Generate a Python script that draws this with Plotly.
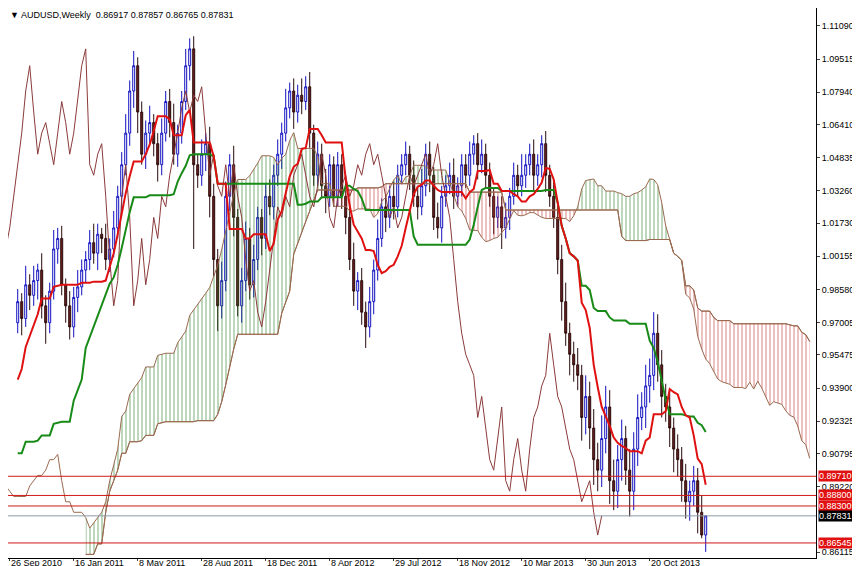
import numpy as np
import pandas as pd
import plotly.graph_objects as go

# weekly closes before the visible window (only feed the indicators)
prior_closes = [0.80, 0.81, 0.79, 0.80, 0.80, 0.82, 0.83, 0.84, 0.83, 0.84, 0.84, 0.83,
                0.85, 0.86, 0.88, 0.87, 0.88, 0.90, 0.91, 0.92, 0.90, 0.92, 0.93, 0.91,
                0.91, 0.90, 0.89, 0.89, 0.90, 0.92, 0.91, 0.89, 0.88, 0.87, 0.89, 0.89,
                0.90, 0.91, 0.92, 0.91, 0.92, 0.93, 0.93, 0.92, 0.90, 0.86, 0.84, 0.85,
                0.83, 0.85, 0.86, 0.87, 0.90, 0.91, 0.92, 0.93, 0.94, 0.95, 0.96, 0.97]

# visible weekly closes, 10 Oct 2010 .. 26 Jan 2014
closes = [0.980, 0.972, 0.988, 0.983, 0.990, 0.995, 0.978, 0.970, 0.985, 1.005, 1.010, 0.988, 0.978, 0.968, 0.982, 0.987,
          0.995, 1.000, 1.008, 1.003, 1.012, 1.010, 1.000, 1.005, 1.015, 1.030, 1.045, 1.060, 1.080, 1.092, 1.070, 1.050,
          1.060, 1.065, 1.055, 1.045, 1.060, 1.075, 1.065, 1.050, 1.060, 1.075, 1.092, 1.100, 1.045, 1.040, 1.050, 1.055,
          1.030, 1.000, 0.978, 0.990, 1.030, 1.045, 1.020, 0.978, 0.990, 1.010, 0.988, 1.000, 1.020, 1.010, 1.030, 1.025,
          1.040, 1.050, 1.060, 1.072, 1.080, 1.070, 1.078, 1.075, 1.082, 1.060, 1.040, 1.050, 1.035, 1.030, 1.045, 1.030,
          1.045, 1.030, 1.020, 1.000, 0.985, 0.990, 0.975, 0.968, 0.980, 0.995, 1.010, 1.025, 1.020, 1.030, 1.025, 1.040,
          1.045, 1.050, 1.040, 1.030, 1.025, 1.035, 1.050, 1.040, 1.020, 1.015, 1.030, 1.035, 1.040, 1.030, 1.035, 1.045,
          1.040, 1.050, 1.055, 1.045, 1.050, 1.040, 1.030, 1.020, 1.025, 1.015, 1.020, 1.030, 1.040, 1.035, 1.040, 1.045,
          1.050, 1.040, 1.045, 1.055, 1.040, 1.030, 1.020, 1.000, 0.980, 0.965, 0.955, 0.950, 0.945, 0.925, 0.935, 0.920,
          0.905, 0.900, 0.915, 0.930, 0.895, 0.890, 0.905, 0.915, 0.900, 0.890, 0.910, 0.925, 0.930, 0.940, 0.945, 0.965,
          0.950, 0.935, 0.930, 0.920, 0.910, 0.905, 0.895, 0.885, 0.890, 0.895, 0.880, 0.8692, 0.87831]
upper_wick = [0.006, 0.004, 0.009, 0.005, 0.007, 0.003, 0.008, 0.005, 0.004, 0.009, 0.005, 0.006, 0.003, 0.007, 0.005, 0.008,
              0.005, 0.004, 0.006, 0.009, 0.005, 0.003, 0.007, 0.005, 0.008, 0.005, 0.006, 0.009, 0.005, 0.007, 0.004, 0.005,
              0.006, 0.008, 0.004, 0.005, 0.007, 0.005, 0.006, 0.009, 0.004, 0.005, 0.008, 0.005, 0.006, 0.005, 0.007, 0.005,
              0.008, 0.006, 0.005, 0.009, 0.007, 0.005, 0.009, 0.004, 0.006, 0.008, 0.005, 0.007, 0.005, 0.004, 0.006, 0.008,
              0.005, 0.007, 0.005, 0.009, 0.004, 0.006, 0.005, 0.008, 0.005, 0.007, 0.004, 0.006, 0.005, 0.008, 0.005, 0.004,
              0.006, 0.005, 0.007, 0.005, 0.008, 0.004, 0.006, 0.005, 0.007, 0.005, 0.009, 0.004, 0.006, 0.005, 0.007, 0.005,
              0.005, 0.006, 0.004, 0.007, 0.005, 0.008, 0.005, 0.006, 0.004, 0.007, 0.005, 0.005, 0.006, 0.008, 0.004, 0.005,
              0.005, 0.006, 0.004, 0.005, 0.007, 0.005, 0.006, 0.004, 0.005, 0.005, 0.007, 0.004, 0.006, 0.005, 0.010, 0.005,
              0.005, 0.007, 0.005, 0.004, 0.006, 0.005, 0.008, 0.005, 0.007, 0.009, 0.005, 0.006, 0.008, 0.005, 0.010, 0.007,
              0.009, 0.008, 0.011, 0.010, 0.008, 0.010, 0.007, 0.009, 0.006, 0.010, 0.008, 0.011, 0.007, 0.010, 0.008, 0.010,
              0.009, 0.007, 0.006, 0.008, 0.005, 0.007, 0.006, 0.008, 0.005, 0.007, 0.006, 0.008, 0.00026]
lower_wick = [0.005, 0.008, 0.004, 0.007, 0.005, 0.009, 0.006, 0.010, 0.005, 0.004, 0.007, 0.005, 0.008, 0.006, 0.005, 0.007,
              0.004, 0.006, 0.005, 0.005, 0.008, 0.007, 0.005, 0.006, 0.004, 0.005, 0.007, 0.005, 0.006, 0.008, 0.010, 0.005,
              0.007, 0.005, 0.006, 0.008, 0.005, 0.004, 0.007, 0.005, 0.006, 0.005, 0.004, 0.007, 0.040, 0.006, 0.005, 0.008,
              0.010, 0.008, 0.012, 0.006, 0.005, 0.007, 0.009, 0.005, 0.008, 0.005, 0.007, 0.006, 0.005, 0.008, 0.005, 0.004,
              0.006, 0.005, 0.007, 0.004, 0.005, 0.008, 0.005, 0.006, 0.004, 0.007, 0.005, 0.005, 0.006, 0.008, 0.005, 0.005,
              0.005, 0.006, 0.008, 0.005, 0.007, 0.009, 0.006, 0.010, 0.005, 0.006, 0.005, 0.004, 0.007, 0.005, 0.006, 0.005,
              0.004, 0.005, 0.007, 0.005, 0.006, 0.004, 0.005, 0.008, 0.006, 0.005, 0.007, 0.005, 0.004, 0.006, 0.005, 0.005,
              0.006, 0.005, 0.005, 0.007, 0.004, 0.006, 0.005, 0.008, 0.005, 0.010, 0.005, 0.006, 0.004, 0.005, 0.005, 0.006,
              0.005, 0.007, 0.005, 0.006, 0.008, 0.005, 0.005, 0.007, 0.009, 0.006, 0.010, 0.008, 0.007, 0.011, 0.008, 0.010,
              0.012, 0.010, 0.008, 0.007, 0.011, 0.009, 0.008, 0.010, 0.007, 0.012, 0.009, 0.008, 0.006, 0.010, 0.008, 0.007,
              0.008, 0.010, 0.007, 0.009, 0.011, 0.008, 0.010, 0.008, 0.009, 0.007, 0.010, 0.00152, 0.008]

start_date = "2010-10-10"
date_ticks = ["2010-09-26", "2011-01-16", "2011-05-08", "2011-08-28", "2011-12-18", "2012-04-08",
              "2012-07-29", "2012-11-18", "2013-03-10", "2013-06-30", "2013-10-20"]
date_labels = ["26 Sep 2010", "16 Jan 2011", "8 May 2011", "28 Aug 2011", "18 Dec 2011", "8 Apr 2012",
               "29 Jul 2012", "18 Nov 2012", "10 Mar 2013", "30 Jun 2013", "20 Oct 2013"]
price_ticks = [1.11090, 1.09515, 1.07940, 1.06410, 1.04835, 1.03260, 1.01730, 1.00155, 0.98580,
               0.97005, 0.95475, 0.93900, 0.92325, 0.90795, 0.89220, 0.86115]
level_lines = [0.89710, 0.88800, 0.88300, 0.86545]
last_price = 0.87831

n_prior, n = len(prior_closes), len(closes)
all_dates = pd.date_range(pd.Timestamp(start_date) - pd.Timedelta(weeks=n_prior), periods=n_prior + n + 26, freq="7D")
dates = all_dates[n_prior:n_prior + n]

opens = [prior_closes[-1]] + closes[:-1]
highs = [max(o, c) + u for o, c, u in zip(opens, closes, upper_wick)]
lows = [min(o, c) - l for o, c, l in zip(opens, closes, lower_wick)]

hi = pd.Series(prior_closes + highs); lo = pd.Series(prior_closes + lows)
mid = lambda p: (hi.rolling(p).max() + lo.rolling(p).min()) / 2
tenkan, kijun = mid(9), mid(26)
span_a = ((tenkan + kijun) / 2).tolist()
span_b = mid(52).tolist()
cloud_x = all_dates[26:]
sel = [i for i in range(len(hi)) if i + 26 >= n_prior - 8]
cx = [cloud_x[i] for i in sel]
a = np.array([span_a[i] for i in sel]); b = np.array([span_b[i] for i in sel])

edge = dict(color="#9a6a50", width=1)
fig = go.Figure()
fig.add_trace(go.Scatter(x=cx, y=b, mode="lines", line=edge, showlegend=False, hoverinfo="skip"))
fig.add_trace(go.Scatter(x=cx, y=np.where(a > b, a, b), mode="lines", line=dict(width=0), fill="tonexty",
                         fillcolor="rgba(0,0,0,0)", fillpattern=dict(shape="|", fgcolor="#1f7a1f", size=4, solidity=0.3),
                         showlegend=False, hoverinfo="skip"))
fig.add_trace(go.Scatter(x=cx, y=b, mode="lines", line=edge, showlegend=False, hoverinfo="skip"))
fig.add_trace(go.Scatter(x=cx, y=np.where(a < b, a, b), mode="lines", line=dict(width=0), fill="tonexty",
                         fillcolor="rgba(0,0,0,0)", fillpattern=dict(shape="|", fgcolor="#c03030", size=4, solidity=0.3),
                         showlegend=False, hoverinfo="skip"))
fig.add_trace(go.Scatter(x=cx, y=a, mode="lines", line=edge, showlegend=False, hoverinfo="skip"))

# chikou: closes drawn 26 weeks back
fig.add_trace(go.Scatter(x=all_dates[n_prior - 26:n_prior - 26 + n], y=closes, mode="lines",
                         line=dict(color="#8b3a3a", width=1), showlegend=False))
fig.add_trace(go.Candlestick(x=dates, open=opens, high=highs, low=lows, close=closes, showlegend=False,
                             increasing=dict(line=dict(color="#1010c0", width=1), fillcolor="white"),
                             decreasing=dict(line=dict(color="#2a0a0a", width=1), fillcolor="#6e1e1e"),
                             whiskerwidth=0))
fig.add_trace(go.Scatter(x=dates, y=kijun.tolist()[n_prior:], mode="lines", line=dict(color="#178a17", width=2), showlegend=False))
fig.add_trace(go.Scatter(x=dates, y=tenkan.tolist()[n_prior:], mode="lines", line=dict(color="#e01010", width=2), showlegend=False))

lab = dict(color="white", size=9, family="Liberation Sans")
for lv in level_lines:
    fig.add_hline(y=lv, line=dict(color="#d01818", width=1))
    fig.add_annotation(x=1, xref="paper", y=lv, text=f"{lv:.5f}", showarrow=False, xanchor="left", xshift=2,
                       bgcolor="#e01010", font=lab, borderpad=0)
fig.add_hline(y=last_price, line=dict(color="#8a9aa8", width=1))
fig.add_annotation(x=1, xref="paper", y=last_price, text=f"{last_price:.5f}", showarrow=False, xanchor="left", xshift=2,
                   bgcolor="black", font=lab, borderpad=0)
fig.add_annotation(x=0, xref="paper", y=1, yref="paper", text="▼ AUDUSD,Weekly  0.86917 0.87857 0.86765 0.87831",
                   showarrow=False, xanchor="left", yanchor="top", font=dict(size=9, family="Liberation Sans", color="black"))
for d, t in zip(date_ticks, date_labels):
    fig.add_annotation(x=d, y=0, yref="paper", text=t, showarrow=False, xanchor="left", yanchor="top", yshift=1,
                       borderpad=0, font=dict(size=9, family="Liberation Sans", color="black"))

x0 = pd.Timestamp("2010-09-23")
fig.update_layout(width=860, height=566, margin=dict(l=0, r=52, t=0, b=16), plot_bgcolor="white", paper_bgcolor="white",
                  font=dict(family="Liberation Sans", size=9, color="black"), showlegend=False,
                  xaxis=dict(range=[x0, x0 + pd.Timedelta(weeks=202)], rangeslider=dict(visible=False), showgrid=False,
                             tickvals=date_ticks, showticklabels=False, ticks="outside", ticklen=2,
                             showline=True, linecolor="black", mirror=True),
                  yaxis=dict(range=[0.8583, 1.1194], side="right", showgrid=False, tickvals=price_ticks,
                             tickformat=".5f", ticks="outside", ticklen=3,
                             showline=True, linecolor="black", mirror=True))
fig.write_html("out.html")
